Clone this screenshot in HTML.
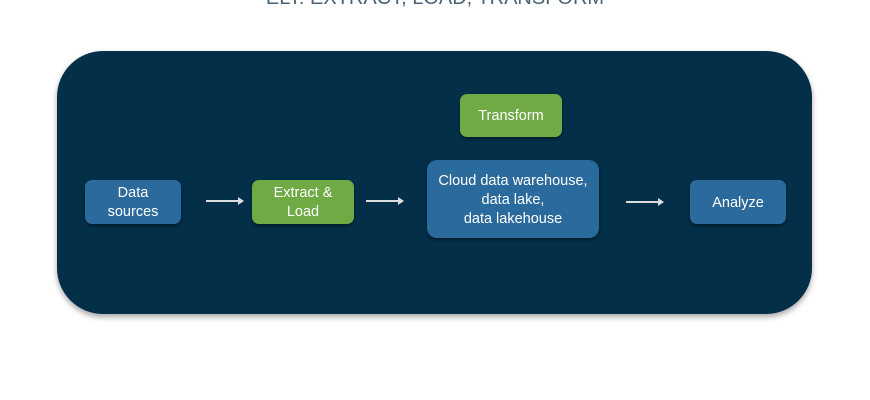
<!DOCTYPE html>
<html><head><style>
body{margin:0;width:870px;height:400px;background:#fff;position:relative;overflow:hidden;font-family:"Liberation Sans",sans-serif}
.t{position:absolute;left:0;width:870px;top:-13px;text-align:center;font-size:20px;color:#4a6278;letter-spacing:0px}
.bg{position:absolute;left:57px;top:51px;width:755px;height:263px;border-radius:46px;background:#032f48;box-shadow:0 3px 6px rgba(0,0,0,.35)}
.n{position:absolute;border-radius:7px;color:#fff;font-size:14.5px;line-height:19px;padding-top:2px;box-sizing:border-box;display:flex;align-items:center;justify-content:center;text-align:center;box-shadow:0 2px 3px rgba(0,0,0,.4)}
.b{background:#2b6a9c}.g{background:#6faa45}
.a{position:absolute;height:2px;background:#ddd}
.a:after{content:"";position:absolute;right:-2px;top:-3px;border-left:6px solid #ddd;border-top:4px solid transparent;border-bottom:4px solid transparent}
</style></head><body>
<div class="t">ELT: EXTRACT, LOAD, TRANSFORM</div>
<div class="bg"></div>
<div class="n b" style="left:85px;top:180px;width:96px;height:44px">Data<br>sources</div>
<div class="n g" style="left:252px;top:180px;width:102px;height:44px">Extract &amp;<br>Load</div>
<div class="n g" style="left:460px;top:94px;width:102px;height:43px">Transform</div>
<div class="n b" style="left:427px;top:160px;width:172px;height:78px;border-radius:10px">Cloud data warehouse,<br>data lake,<br>data lakehouse</div>
<div class="n b" style="left:690px;top:180px;width:96px;height:44px">Analyze</div>
<div class="a" style="left:206px;top:200px;width:36px"></div>
<div class="a" style="left:366px;top:200px;width:36px"></div>
<div class="a" style="left:626px;top:201px;width:36px"></div>
</body></html>
